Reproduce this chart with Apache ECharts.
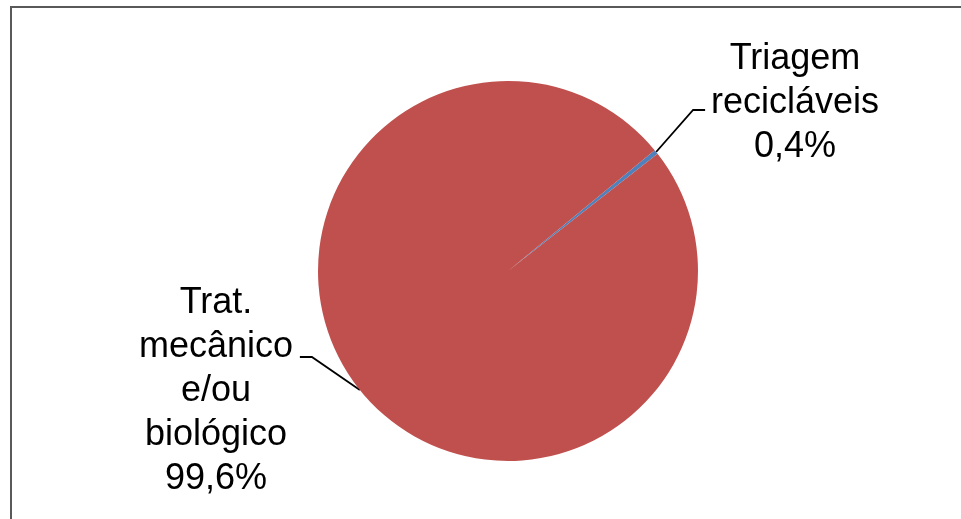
<!DOCTYPE html>
<html>
<head>
<meta charset="utf-8">
<script src="https://cdn.jsdelivr.net/npm/echarts@6/dist/echarts.min.js"></script>
<style>
html,body{margin:0;padding:0;background:#fff;}
#chart{width:961px;height:519px;}
</style>
</head>
<body>
<div id="chart"></div>
<script>
const categories = ['Triagem\nrecicláveis', 'Trat.\nmecânico\ne/ou\nbiológico'];
const values = [0.4, 99.6];
const valueLabels = ['0,4%', '99,6%'];
const colors = ['#4F81BD', '#C0504D'];

const chart = echarts.init(document.getElementById('chart'));
const data = categories.map((c, i) => ({
  name: c,
  value: values[i],
  itemStyle: { color: colors[i] }
}));

// label placement (centre of text block) and leader shape per slice
const labelPlace = [
  { x: 795, y: 103, knee: [37, -42], tail: 12 },
  { x: 216, y: 391, knee: [-48, -33], tail: -12 }
];

chart.setOption({
  backgroundColor: '#ffffff',
  animation: false,
  graphic: [{
    type: 'rect',
    shape: { x: 11, y: 7, width: 1000, height: 600 },
    style: { fill: 'none', stroke: '#595959', lineWidth: 2 },
    silent: true
  }],
  series: [{
    type: 'pie',
    center: [508, 271],
    radius: 190,
    startAngle: 39.5,
    clockwise: true,
    data: data,
    itemStyle: { borderWidth: 0 },
    label: {
      show: true,
      position: 'outside',
      formatter: p => p.name + '\n' + valueLabels[p.dataIndex],
      fontFamily: 'Liberation Sans, Arial, sans-serif',
      fontSize: 36,
      lineHeight: 44,
      color: '#000000'
    },
    labelLine: {
      show: true,
      length: 40,
      length2: 12,
      lineStyle: { color: '#000000', width: 1.8 }
    },
    labelLayout: function (params) {
      const lp = labelPlace[params.dataIndex];
      const p0 = params.labelLinePoints ? params.labelLinePoints[0] : null;
      const out = { x: lp.x, y: lp.y, align: 'center', verticalAlign: 'middle' };
      if (p0) {
        const knee = [p0[0] + lp.knee[0], p0[1] + lp.knee[1]];
        const end = [knee[0] + lp.tail, knee[1]];
        out.labelLinePoints = [p0, knee, end];
      }
      return out;
    }
  }]
});
</script>
</body>
</html>
